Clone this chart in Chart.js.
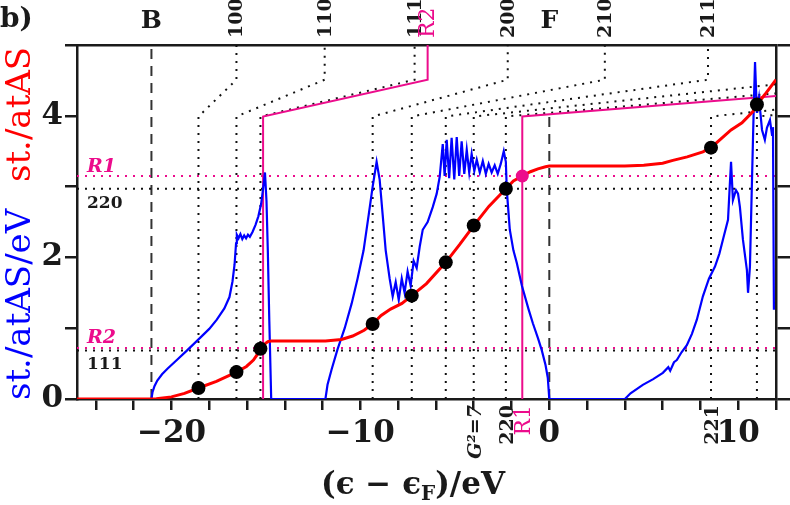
<!DOCTYPE html>
<html><head><meta charset="utf-8">
<script src="https://cdn.jsdelivr.net/npm/chart.js@4.4.1/dist/chart.umd.min.js"></script>
<style>html,body{margin:0;padding:0;background:#fff;}canvas{display:block;}</style>
</head><body>
<canvas id="c" width="790" height="505"></canvas>
<script>
// ---------- data ----------
const xMin = -25, xMax = 12, yMin = 0, yMax = 5;
const xTicks = [-24,-22,-20,-18,-16,-14,-12,-10,-8,-6,-4,-2,0,2,4,6,8,10,12];
const xLabeled = [-20,-10,0,10];
const yTicks = [0,1,2,3,4,5];
const yLabeled = [0,2,4];

// DOS (blue), st./atAS/eV
const dosE = [-25,-21.06,-21.0,-20.9,-20.75,-20.5,-20.2,-19.8,-19.2,-18.5,-18.0,-17.6,-17.2,-16.93,-16.77,-16.66,-16.58,-16.54,-16.45,-16.35,-16.25,-16.15,-16.05,-15.95,-15.85,-15.71,-15.55,-15.4,-15.25,-15.15,-15.05,-14.97,-14.9,-14.82,-14.72,
 -11.85,-11.74,-11.52,-11.21,-10.83,-10.46,-10.15,-9.83,-9.56,-9.35,-9.14,-8.98,-8.82,-8.66,-8.45,-8.29,-8.13,-7.97,-7.81,-7.66,-7.5,-7.34,-7.18,-7.02,-6.86,-6.7,-6.44,-6.17,-5.96,-5.8,-5.64,-5.54,-5.43,-5.3,-5.17,-5.03,-4.9,-4.77,-4.64,-4.5,-4.37,-4.24,-4.11,-3.97,-3.84,-3.68,-3.52,-3.36,-3.21,-3.05,-2.89,-2.73,-2.57,-2.41,-2.3,-2.25,-2.09,-1.9,-1.72,-1.45,-1.1,-0.87,-0.6,-0.4,-0.2,-0.08,0,
 4.0,4.3,4.95,5.5,6.01,6.3,6.4,6.6,6.75,7.0,7.28,7.55,7.81,8.13,8.45,8.77,9.0,9.19,9.46,9.55,9.62,9.72,9.88,9.99,10.09,10.25,10.46,10.52,10.62,10.73,10.83,10.89,10.99,11.1,11.26,11.41,11.52,11.68,11.79,11.84,11.89];
const dosV = [0,0,0.1,0.18,0.26,0.35,0.43,0.53,0.68,0.86,0.99,1.12,1.28,1.44,1.66,1.9,2.2,2.32,2.27,2.33,2.26,2.31,2.27,2.32,2.29,2.36,2.46,2.58,2.76,2.97,3.2,2.8,2.1,1.1,0,
 0,0.2,0.42,0.7,1.0,1.35,1.7,2.1,2.6,3.0,3.35,3.1,2.6,2.1,1.7,1.45,1.65,1.4,1.7,1.5,1.8,1.6,1.95,1.85,2.15,2.39,2.5,2.71,2.9,3.14,3.6,3.15,3.66,3.12,3.69,3.1,3.7,3.15,3.64,3.18,3.52,3.2,3.46,3.22,3.38,3.2,3.36,3.18,3.32,3.2,3.3,3.18,3.32,3.5,3.35,2.95,2.39,2.1,1.92,1.6,1.27,1.07,0.86,0.69,0.48,0.3,0,
 0,0.08,0.2,0.28,0.37,0.45,0.4,0.52,0.55,0.66,0.76,0.92,1.12,1.45,1.7,1.87,2.05,2.25,2.53,3.0,3.35,2.81,2.95,2.9,2.71,2.25,1.82,1.5,1.87,3.1,4.2,4.76,4.04,4.25,3.8,3.66,3.83,3.94,3.73,3.84,1.26];

// integrated number of states (red), st./atAS
const nosE = [-25,-21.06,-20.8,-20.0,-19.31,-18.57,-17.62,-16.56,-16.03,-15.66,-15.4,-15.29,-15.1,-14.9,-14.72,-11.85,-11.0,-10.41,-9.8,-9.35,-8.9,-8.4,-7.8,-7.28,-6.5,-5.48,-4.75,-4.0,-3.2,-2.3,-1.9,-1.43,-1.0,-0.6,-0.2,0,4.0,5.0,6.0,6.54,7.3,8.13,8.56,9.19,9.62,10.2,10.78,10.99,11.41,12.0];
const nosV = [0,0,0.005,0.03,0.08,0.155,0.25,0.38,0.46,0.55,0.65,0.71,0.77,0.81,0.82,0.82,0.84,0.89,0.97,1.06,1.18,1.27,1.35,1.46,1.63,1.93,2.18,2.45,2.72,2.97,3.08,3.15,3.21,3.25,3.28,3.29,3.29,3.3,3.33,3.37,3.42,3.49,3.55,3.7,3.8,3.9,4.06,4.16,4.3,4.51];

// G^2 shells: energy, number of states, label positions on top
const gE    = [-18.57,-16.56,-15.29,-9.35,-7.28,-5.48,-4.00,-2.30,8.56,10.99];
const gN    = [0.155,0.38,0.71,1.06,1.46,1.93,2.45,2.97,3.55,4.16];
const gTopE = [-16.56,-11.89,-7.13,-2.20,2.94,8.40,14.3,20.5,27.0,34.0];
const gTopLabels = ['100','110','111','200','210','211','','','',''];
const fanLow = 3.99, fanHigh = 4.51;
const bottomLabels = ['G²=7','220','R1','221'];
const bottomLabelE = [-4.00,-2.30,-1.43,8.56];

const eB = -21.06, eF = 0, fTop = 4.05;
const r1E = -1.43, r1N = 3.15, r1EndE = 12, r1EndN = 4.28;
const r2E = -15.15, r2N = 0.72, r2TopE = -6.44;
const n220 = 2.97, n111 = 0.685;

// ---------- chart ----------
const BLUE = '#0000ff', RED = '#ff0000', MAG = '#ec0c8c', INK = '#1a1a1a';
const pts = (xs, ys) => xs.map((x, i) => ({x, y: ys[i]}));
const line = (data, color, width, dash, extra) => Object.assign({
  type: 'scatter', data, showLine: true, borderColor: color, borderWidth: width,
  borderDash: dash || [], pointRadius: 0, fill: false, tension: 0,
  xAxisID: 'x', yAxisID: 'y'
}, extra || {});

const datasets = [];
datasets.push(Object.assign(line([{x: r1E, y: r1N}], MAG, 0), {showLine: false, pointRadius: 6.5, pointBackgroundColor: MAG, pointBorderWidth: 0}));
datasets.push(Object.assign(line(pts(gE, gN), '#000', 0), {showLine: false, pointRadius: 7, pointBackgroundColor: '#000', pointBorderWidth: 0}));
datasets.push(line(pts(nosE, nosV), RED, 3));
datasets.push(line(pts(dosE, dosV), BLUE, 2.2));
datasets.push(line([{x: r2E, y: 0}, {x: r2E, y: fanLow}, {x: r2TopE, y: fanHigh}, {x: r2TopE, y: yMax}], MAG, 2));
datasets.push(line([{x: r1E, y: 0}, {x: r1E, y: fanLow}, {x: r1EndE, y: r1EndN}], MAG, 2));
gE.forEach((e, i) => {
  datasets.push(line([{x: e, y: 0}, {x: e, y: fanLow}, {x: gTopE[i], y: fanHigh}, {x: gTopE[i], y: yMax}], '#111', 2, [2, 6]));
});
datasets.push(line([{x: xMin, y: r1N}, {x: xMax, y: r1N}], MAG, 2, [2, 6]));
datasets.push(line([{x: xMin, y: n220}, {x: xMax, y: n220}], '#111', 2, [2, 6]));
datasets.push(line([{x: xMin, y: r2N}, {x: xMax, y: r2N}], MAG, 2, [2, 6]));
datasets.push(line([{x: xMin, y: n111}, {x: xMax, y: n111}], '#111', 2, [2, 6]));
datasets.push(line([{x: eB, y: 0}, {x: eB, y: yMax}], '#333', 2, [10, 7]));
datasets.push(line([{x: eF, y: 0}, {x: eF, y: fTop}], '#333', 2, [10, 7]));

const textPlugin = {
  id: 'texts',
  afterDraw(chart) {
    const ctx = chart.ctx, xs = chart.scales.x, ys = chart.scales.y;
    const area = chart.chartArea;
    ctx.save();
    ctx.fillStyle = INK;
    // x tick labels (from the scale's ticks)
    ctx.font = 'bold 31px "DejaVu Serif"'; ctx.textAlign = 'center'; ctx.textBaseline = 'alphabetic';
    xs.ticks.forEach(t => {
      if (xLabeled.includes(t.value)) ctx.fillText(String(t.value).replace('-', '−'), xs.getPixelForValue(t.value), area.bottom + 43);
    });
    // panel label
    ctx.font = 'bold 28px "DejaVu Serif"'; ctx.textAlign = 'left'; ctx.textBaseline = 'alphabetic';
    ctx.fillText('b)', 0, 27);
    // B and F
    ctx.font = 'bold 25px "DejaVu Serif"'; ctx.textAlign = 'center';
    ctx.fillText('B', xs.getPixelForValue(eB), 28);
    ctx.fillText('F', xs.getPixelForValue(eF), 28);
    // rotated labels
    const rot = (txt, x, y, align, font, color) => {
      ctx.save(); ctx.translate(x, y); ctx.rotate(-Math.PI / 2);
      ctx.font = font; ctx.fillStyle = color; ctx.textAlign = align; ctx.textBaseline = 'middle';
      ctx.fillText(txt, 0, 0); ctx.restore();
    };
    gTopLabels.forEach((t, i) => { if (t) rot(t, xs.getPixelForValue(gTopE[i]) + 1, area.top - 7, 'left', 'bold 19px "DejaVu Serif"', INK); });
    rot('R2', xs.getPixelForValue(r2TopE) + 1, area.top - 7, 'left', '22px "DejaVu Serif"', MAG);
    bottomLabels.forEach((t, i) => {
      const isR = t === 'R1';
      rot(t, xs.getPixelForValue(bottomLabelE[i]) + 2, area.bottom + 6, 'right',
        isR ? '22px "DejaVu Serif"' : (t.startsWith('G') ? 'bold italic 19px "DejaVu Serif"' : 'bold 19px "DejaVu Serif"'), isR ? MAG : INK);
    });
    // inner left labels
    ctx.textAlign = 'left'; ctx.textBaseline = 'alphabetic';
    const lx = area.left + 10;
    ctx.font = 'bold italic 19px "DejaVu Serif"'; ctx.fillStyle = MAG;
    ctx.fillText('R1', lx, ys.getPixelForValue(r1N) - 4);
    ctx.fillText('R2', lx, ys.getPixelForValue(r2N) - 5);
    ctx.font = 'bold 17px "DejaVu Serif"'; ctx.fillStyle = INK;
    ctx.fillText('220', lx, ys.getPixelForValue(n220) + 19);
    ctx.fillText('111', lx, ys.getPixelForValue(n111) + 18);
    // y titles
    ctx.save(); ctx.translate(30, 400); ctx.rotate(-Math.PI / 2);
    ctx.font = '34px "DejaVu Serif"'; ctx.textAlign = 'left'; ctx.textBaseline = 'alphabetic';
    ctx.fillStyle = BLUE; ctx.fillText('st./atAS/eV', 0, 0);
    ctx.restore();
    ctx.save(); ctx.translate(30, 182); ctx.rotate(-Math.PI / 2);
    ctx.font = '34px "DejaVu Serif"'; ctx.textAlign = 'left'; ctx.textBaseline = 'alphabetic';
    ctx.fillStyle = RED; ctx.fillText('st./atAS', 0, 0);
    ctx.restore();
    // x title with subscript
    ctx.fillStyle = INK; ctx.textBaseline = 'alphabetic'; ctx.textAlign = 'left';
    const big = 'bold 31px "DejaVu Serif"', small = 'bold 20px "DejaVu Serif"';
    const p1 = '(ϵ − ϵ', p2 = 'F', p3 = ')/eV';
    ctx.font = big; const w1 = ctx.measureText(p1).width, w3 = ctx.measureText(p3).width;
    ctx.font = small; const w2 = ctx.measureText(p2).width;
    let tx = 413 - (w1 + w2 + w3) / 2; const ty = 494;
    ctx.font = big; ctx.fillText(p1, tx, ty); tx += w1;
    ctx.font = small; ctx.fillText(p2, tx, ty + 6); tx += w2;
    ctx.font = big; ctx.fillText(p3, tx, ty);
    ctx.restore();
  }
};

new Chart(document.getElementById('c'), {
  type: 'scatter',
  data: { datasets },
  options: {
    responsive: false, animation: false, devicePixelRatio: 1,
    layout: { padding: { top: 45, left: 0, right: 0, bottom: 0 } },
    plugins: { legend: { display: false }, tooltip: { enabled: false } },
    scales: {
      x: {
        type: 'linear', position: 'bottom', min: xMin, max: xMax,
        afterBuildTicks: a => { a.ticks = xTicks.map(v => ({ value: v })); },
        ticks: { display: false, autoSkip: false, maxRotation: 0 },
        grid: { drawOnChartArea: false, drawTicks: true, tickLength: 11, color: INK, lineWidth: 2.5 },
        border: { display: true, color: INK, width: 2.5 },
        afterFit: s => { s.height = 106; }
      },
      xTop: {
        type: 'linear', position: 'top', min: xMin, max: xMax,
        ticks: { display: false }, grid: { drawOnChartArea: false, drawTicks: false },
        border: { display: true, color: INK, width: 2.5 },
        afterFit: s => { s.height = 0; }
      },
      y: {
        type: 'linear', position: 'left', min: yMin, max: yMax,
        afterBuildTicks: a => { a.ticks = yTicks.map(v => ({ value: v })); },
        ticks: { padding: 2, color: INK, font: { family: 'DejaVu Serif', size: 31, weight: 'bold' },
          callback: v => yLabeled.includes(v) ? String(v) : '' },
        grid: { drawOnChartArea: false, drawTicks: true, tickLength: 12, color: INK, lineWidth: 2.5 },
        border: { display: true, color: INK, width: 2.5 },
        afterFit: s => { s.width = 77; }
      },
      y2: {
        type: 'linear', position: 'right', min: yMin, max: yMax,
        afterBuildTicks: a => { a.ticks = yTicks.map(v => ({ value: v })); },
        ticks: { padding: 0, callback: () => '' },
        grid: { drawOnChartArea: false, drawTicks: true, tickLength: 14, color: INK, lineWidth: 2.5 },
        border: { display: true, color: INK, width: 2.5 },
        afterFit: s => { s.width = 14; }
      }
    }
  },
  plugins: [textPlugin]
});
</script>
</body></html>
